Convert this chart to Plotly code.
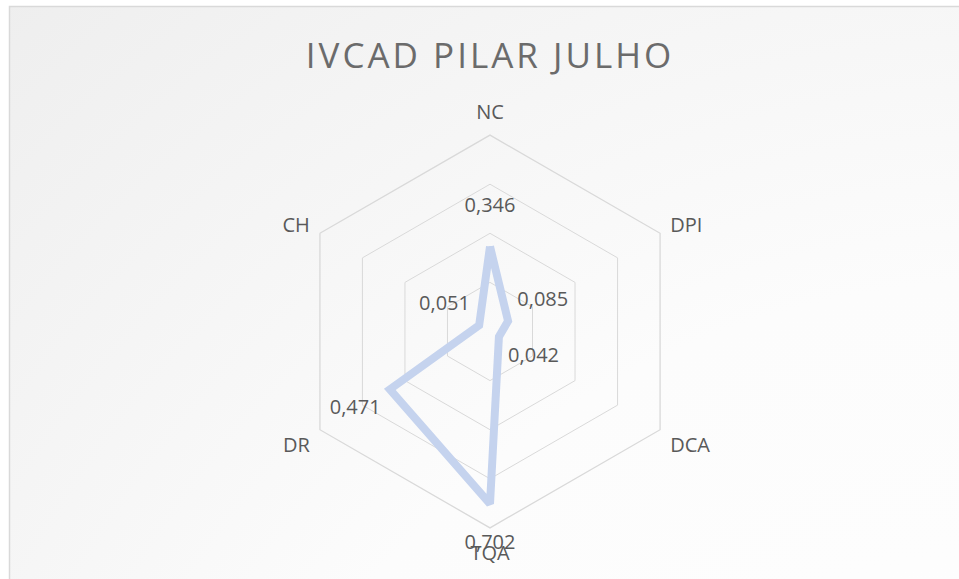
import plotly.graph_objects as go
import urllib.parse

categories = ["NC", "DPI", "DCA", "TQA", "DR", "CH"]
values = [0.346, 0.085, 0.042, 0.702, 0.471, 0.051]
title_text = "IVCAD PILAR JULHO"

W, H = 959, 579
R_MAX = 0.8          # outer ring of the chart
R_LABEL_MAX = 1.0    # range of the invisible label layer (same px scale)
M_T, M_B = 86, 2
PH = H - M_T - M_B
FONT = "'Open Sans', Lato, sans-serif"
GRAY = "#595959"

labels = [f"{v:.3f}".replace(".", ",") for v in values]
LABEL_OFFSET = 0.163

theta_closed = categories + [categories[0]]
r_closed = values + [values[0]]

fig = go.Figure()
fig.add_trace(go.Scatterpolar(
    r=r_closed, theta=theta_closed, mode="lines",
    line=dict(color="#c5d3ee", width=8),
    hoverinfo="skip", showlegend=False, subplot="polar",
))
fig.add_trace(go.Scatterpolar(
    r=[v + LABEL_OFFSET for v in values], theta=categories, mode="text",
    text=labels, textposition="middle center",
    textfont=dict(family=FONT, size=20, color=GRAY),
    cliponaxis=False, hoverinfo="skip", showlegend=False, subplot="polar2",
))

svg = (
    "<svg xmlns='http://www.w3.org/2000/svg' width='959' height='579' viewBox='0 0 959 579' preserveAspectRatio='none'>"
    "<defs><radialGradient id='g' cx='50%' cy='55%' r='75%'>"
    "<stop offset='0%' stop-color='#ffffff'/><stop offset='55%' stop-color='#fcfcfc'/>"
    "<stop offset='100%' stop-color='#eeeeee'/></radialGradient></defs>"
    "<rect x='9.5' y='6.5' width='2000' height='2000' fill='url(#g)' stroke='#d9d9d9' stroke-width='1.5'/>"
    "</svg>"
)
src = "data:image/svg+xml;charset=utf-8," + urllib.parse.quote(svg)

cx = 490 / W
half = 0.35
inner = (1 - R_MAX / R_LABEL_MAX) / 2
fig.update_layout(
    width=W, height=H,
    margin=dict(l=0, r=0, t=M_T, b=M_B),
    paper_bgcolor="white",
    images=[dict(source=src, xref="paper", yref="paper", x=0, y=(H - M_B) / PH,
                 sizex=1, sizey=H / PH, sizing="stretch", xanchor="left", yanchor="top",
                 layer="below")],
    title=dict(text=title_text, x=490 / W, xanchor="center", xref="paper",
               y=1 - 56 / H, yanchor="middle", yref="container",
               font=dict(family=FONT, size=35, color="#6b6b6b")),
    polar=dict(
        domain=dict(x=[cx - half, cx + half], y=[inner, 1 - inner]),
        bgcolor="rgba(0,0,0,0)",
        gridshape="linear",
        radialaxis=dict(range=[0, R_MAX], dtick=0.2, tick0=0, showticklabels=False,
                        ticks="", showline=False, gridcolor="#d9d9d9", gridwidth=1.3),
        angularaxis=dict(rotation=90, direction="clockwise", showgrid=False,
                         categoryarray=categories, categoryorder="array",
                         showline=True, linecolor="#d9d9d9", linewidth=1.3,
                         ticks="outside", ticklen=7, tickcolor="rgba(0,0,0,0)",
                         tickfont=dict(family=FONT, size=20, color=GRAY)),
    ),
    polar2=dict(
        domain=dict(x=[cx - half, cx + half], y=[0, 1]),
        bgcolor="rgba(0,0,0,0)",
        gridshape="linear",
        radialaxis=dict(range=[0, R_LABEL_MAX], visible=False),
        angularaxis=dict(rotation=90, direction="clockwise", visible=False,
                         categoryarray=categories, categoryorder="array"),
    ),
)
post = ("function ls(){document.querySelectorAll('.gtitle').forEach(function(e){e.style.letterSpacing='3px';});}"
        "document.body.style.margin='0';document.body.style.overflow='hidden';ls();setTimeout(ls,0);setTimeout(ls,200);")
fig.write_html("out.html", config={"displayModeBar": False}, post_script=post)
